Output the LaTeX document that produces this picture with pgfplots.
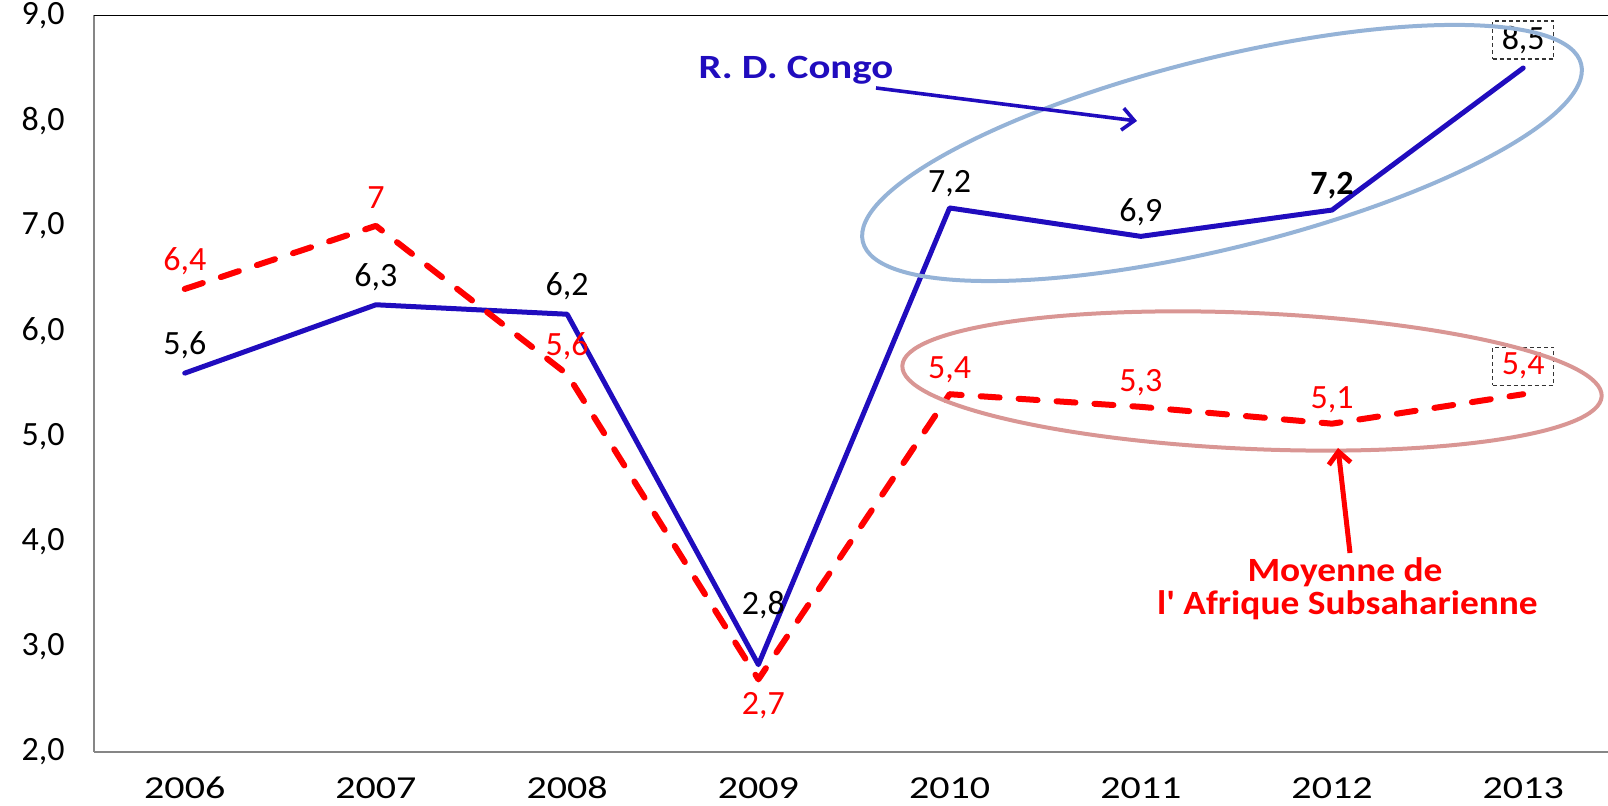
\documentclass[border=0pt]{standalone}
\usepackage{fontspec}
\setmainfont{Carlito}
\newfontfamily\yearfont{Carlito}[FakeStretch=1.25]
\newfontfamily\congofont{Carlito}[FakeStretch=1.2]
\newfontfamily\afrfont{Carlito}[FakeStretch=1.1]
\usepackage{pgfplots}
\pgfplotsset{compat=1.18}
\usetikzlibrary{arrows.meta}
\definecolor{congo}{RGB}{32,12,190}
\definecolor{ellblue}{RGB}{149,179,215}
\definecolor{ellred}{RGB}{217,150,148}
\definecolor{axisgray}{RGB}{134,134,134}
\newcommand\lbl{\fontsize{17}{20}\selectfont}
\begin{document}
\begin{tikzpicture}[x=1pt,y=1pt]
\useasboundingbox (0,0) rectangle (804,403);
\begin{axis}[
  at={(47.15pt,27pt)}, anchor=south west,
  scale only axis, width=757pt, height=368.3pt,
  xmin=-0.473, xmax=7.445, ymin=2, ymax=9,
  axis x line=bottom, axis y line=left,
  axis line style={draw=axisgray, line width=1pt, -},
  xtick={0,...,7}, xticklabels={2006,2007,2008,2009,2010,2011,2012,2013},
  ytick={2,...,9}, yticklabels={{2,0},{3,0},{4,0},{5,0},{6,0},{7,0},{8,0},{9,0}},
  major tick length=0pt,
  tick label style={font=\lbl, black},
  xticklabel style={anchor=center, yshift=-18pt, inner sep=0.5pt, font=\yearfont\fontsize{16}{19}\selectfont},
  yticklabel style={anchor=east, xshift=-11.3pt},
  clip=false,
]
\draw[black, line width=0.8pt] (rel axis cs:0,1) -- (rel axis cs:1,1);
\addplot[congo, line width=2.5pt, line join=round, line cap=round] coordinates {(0,5.6)(1,6.25)(2,6.16)(3,2.83)(4,7.17)(5,6.9)(6,7.15)(7,8.5)};
\addplot[red, line width=3pt, line join=round, line cap=round, dash pattern=on 9.5pt off 9.5pt] coordinates {(0,6.4)(1,7.0)(2,5.59)(3,2.69)(4,5.4)(5,5.28)(6,5.12)(7,5.4)};
% Congo labels
\node[font=\lbl, yshift=14pt] at (axis cs:0,5.6) {5,6};
\node[font=\lbl, yshift=14pt] at (axis cs:1,6.25) {6,3};
\node[font=\lbl, yshift=14pt] at (axis cs:2,6.16) {6,2};
\node[font=\lbl, yshift=30pt, xshift=2.5pt] at (axis cs:3,2.83) {2,8};
\node[font=\lbl, yshift=12pt] at (axis cs:4,7.17) {7,2};
\node[font=\lbl, yshift=12pt] at (axis cs:5,6.9) {6,9};
\node[font=\lbl\bfseries, yshift=12pt] at (axis cs:6,7.15) {7,2};
\node[font=\lbl, yshift=14pt, draw=black!80, dash pattern=on 2pt off 1.5pt, line width=0.6pt, inner sep=0pt, minimum width=30.5pt, minimum height=19pt] at (axis cs:7,8.5) {8,5};
% Africa labels
\node[font=\lbl, red, yshift=14pt] at (axis cs:0,6.4) {6,4};
\node[font=\lbl, red, yshift=14pt] at (axis cs:1,7.0) {7};
\node[font=\lbl, red, yshift=14pt] at (axis cs:2,5.59) {5,6};
\node[font=\lbl, red, yshift=-13pt, xshift=2.5pt] at (axis cs:3,2.69) {2,7};
\node[font=\lbl, red, yshift=12pt] at (axis cs:4,5.4) {5,4};
\node[font=\lbl, red, yshift=12pt] at (axis cs:5,5.28) {5,3};
\node[font=\lbl, red, yshift=12pt] at (axis cs:6,5.12) {5,1};
\node[font=\lbl, red, yshift=14pt, draw=black!80, dash pattern=on 2pt off 1.5pt, line width=0.6pt, inner sep=0pt, minimum width=30.5pt, minimum height=19pt] at (axis cs:7,5.4) {5,4};
\end{axis}
% ellipses
\draw[ellblue, line width=2pt] (611,326.5) ellipse [x radius=185, y radius=47.5, rotate=13.9];
\draw[ellred, line width=2pt] (626,212.5) ellipse [x radius=175, y radius=34, rotate=-2.5];
% annotations
\node[font=\congofont\fontsize{17}{20}\selectfont\bfseries, text=congo] at (398,368) {R. D. Congo};
\draw[congo, line width=1.8pt, -{Straight Barb[length=6pt,width=11pt]}] (438,359) -- (568.5,342.5);
\draw[red, line width=2.5pt, -{Straight Barb[length=6pt,width=11pt]}] (675,126.5) -- (669,179);
\node[font=\afrfont\fontsize{17}{20}\selectfont\bfseries, text=red] at (672.5,117) {Moyenne de};
\node[font=\afrfont\fontsize{17}{20}\selectfont\bfseries, text=red] at (673.7,100.5) {l' Afrique Subsaharienne};
\end{tikzpicture}
\end{document}
